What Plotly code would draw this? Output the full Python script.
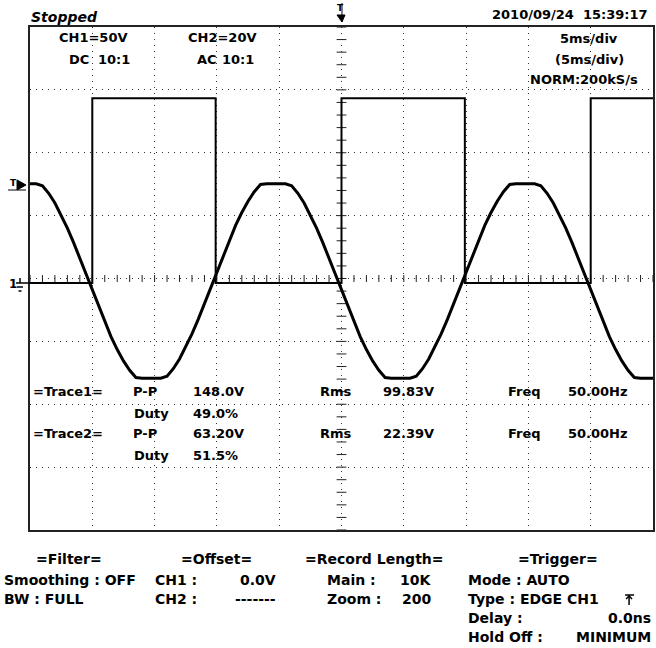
import plotly.graph_objects as go

# CH1 (50 V/div, DC 10:1): square wave, level changes (ms, V)
ch1_time_ms = [-25.0, -20.0, -10.1, 0.0, 9.9, 20.0, 25.0]
ch1_volts = [0.0, 147.0, 0.0, 147.0, 0.0, 147.0, 147.0]

# CH2 (20 V/div, AC 10:1): flat-topped sine, sampled every 0.5 ms
ch2_time_ms = [
    -25.0, -24.5, -24.0, -23.5, -23.0, -22.5, -22.0, -21.5, -21.0, -20.5,
    -20.0, -19.5, -19.0, -18.5, -18.0, -17.5, -17.0, -16.5, -16.0, -15.5,
    -15.0, -14.5, -14.0, -13.5, -13.0, -12.5, -12.0, -11.5, -11.0, -10.5,
    -10.0, -9.5, -9.0, -8.5, -8.0, -7.5, -7.0, -6.5, -6.0, -5.5,
    -5.0, -4.5, -4.0, -3.5, -3.0, -2.5, -2.0, -1.5, -1.0, -0.5,
    0.0, 0.5, 1.0, 1.5, 2.0, 2.5, 3.0, 3.5, 4.0, 4.5,
    5.0, 5.5, 6.0, 6.5, 7.0, 7.5, 8.0, 8.5, 9.0, 9.5,
    10.0, 10.5, 11.0, 11.5, 12.0, 12.5, 13.0, 13.5, 14.0, 14.5,
    15.0, 15.5, 16.0, 16.5, 17.0, 17.5, 18.0, 18.5, 19.0, 19.5,
    20.0, 20.5, 21.0, 21.5, 22.0, 22.5, 23.0, 23.5, 24.0, 24.5, 25.0,
]
ch2_volts = [
    30.9, 30.9, 30.3, 27.9, 24.8, 21.0, 16.8, 12.2, 7.2, 2.1,
    -3.1, -8.2, -13.1, -17.7, -21.8, -25.4, -28.4, -30.7, -30.9, -30.9,
    -30.9, -30.9, -30.3, -27.9, -24.8, -21.0, -16.8, -12.2, -7.2, -2.1,
    3.1, 8.2, 13.1, 17.7, 21.8, 25.4, 28.4, 30.7, 30.9, 30.9,
    30.9, 30.9, 30.3, 27.9, 24.8, 21.0, 16.8, 12.2, 7.2, 2.1,
    -3.1, -8.2, -13.1, -17.7, -21.8, -25.4, -28.4, -30.7, -30.9, -30.9,
    -30.9, -30.9, -30.3, -27.9, -24.8, -21.0, -16.8, -12.2, -7.2, -2.1,
    3.1, 8.2, 13.1, 17.7, 21.8, 25.4, 28.4, 30.7, 30.9, 30.9,
    30.9, 30.9, 30.3, 27.9, 24.8, 21.0, 16.8, 12.2, 7.2, 2.1,
    -3.1, -8.2, -13.1, -17.7, -21.8, -25.4, -28.4, -30.7, -30.9, -30.9, -30.9,
]

# screen settings
TIME_PER_DIV = 5.0      # ms/div
CH1_V_PER_DIV = 50.0
CH2_V_PER_DIV = 20.0
N_HDIV = 10
N_VDIV = 8
CH1_CENTER_V = 3.6      # screen centre expressed in CH1 volts
CH2_CENTER_V = 0.8      # screen centre expressed in CH2 volts

# ---------------- geometry helpers (pixels -> paper) ----------------
W, H = 656, 648
L, R, T, B = 30, 1, 27, 118
PW, PH = W - L - R, H - T - B


def px(x):
    return (x - L) / PW


def py(y):
    return (H - B - y) / PH


FONT = "DejaVu Sans"
INK = "#000000"

fig = go.Figure()

# centre cross-hair tick marks (every 1/5 division)
sub = 5
xt = [(-N_HDIV / 2 + i / sub) * TIME_PER_DIV for i in range(N_HDIV * sub + 1)]
yt = [CH1_CENTER_V + (-N_VDIV / 2 + i / sub) * CH1_V_PER_DIV for i in range(N_VDIV * sub + 1)]
fig.add_trace(go.Scatter(x=xt, y=[CH1_CENTER_V] * len(xt), mode="markers",
                         marker=dict(symbol="line-ns", size=5, line=dict(width=1, color="#222")),
                         hoverinfo="skip", showlegend=False))
fig.add_trace(go.Scatter(x=[0.0] * len(yt), y=yt, mode="markers",
                         marker=dict(symbol="line-ew", size=7, line=dict(width=1, color="#222")),
                         hoverinfo="skip", showlegend=False))

# waveforms
fig.add_trace(go.Scatter(x=ch1_time_ms, y=ch1_volts, mode="lines", line_shape="hv",
                         line=dict(color=INK, width=2), name="CH1", showlegend=False,
                         yaxis="y"))
fig.add_trace(go.Scatter(x=ch2_time_ms, y=ch2_volts, mode="lines",
                         line=dict(color=INK, width=3), name="CH2", showlegend=False,
                         yaxis="y2"))

half_t = N_HDIV / 2 * TIME_PER_DIV
grid_common = dict(showgrid=True, gridcolor="#333", gridwidth=1, griddash="1px,5px",
                   zeroline=False, showticklabels=False, ticks="")

fig.update_layout(
    width=W, height=H,
    margin=dict(l=L, r=R, t=T, b=B, pad=0),
    paper_bgcolor="white", plot_bgcolor="white",
    hovermode=False,
    xaxis=dict(range=[-half_t, half_t],
               tickvals=[(-N_HDIV / 2 + i) * TIME_PER_DIV for i in range(1, N_HDIV)],
               showline=True, linecolor="#222", linewidth=2, mirror=True,
               **grid_common),
    yaxis=dict(range=[CH1_CENTER_V - N_VDIV / 2 * CH1_V_PER_DIV,
                      CH1_CENTER_V + N_VDIV / 2 * CH1_V_PER_DIV],
               tickvals=[CH1_CENTER_V + (-N_VDIV / 2 + i) * CH1_V_PER_DIV for i in range(1, N_VDIV)],
               showline=True, linecolor="#222", linewidth=2, mirror=True,
               **grid_common),
    yaxis2=dict(range=[CH2_CENTER_V - N_VDIV / 2 * CH2_V_PER_DIV,
                       CH2_CENTER_V + N_VDIV / 2 * CH2_V_PER_DIV],
                overlaying="y", showgrid=False, zeroline=False,
                showticklabels=False, ticks=""),
)

annotations = []


def txt(s, x, y, anchor="left", size=13, style="normal"):
    annotations.append(dict(text=s, x=px(x), y=py(y), xref="paper", yref="paper",
                            xanchor=anchor, yanchor="middle", showarrow=False,
                            font=dict(family=FONT, size=size, color=INK, weight="bold",
                                      style=style)))


# header
txt("Stopped", 29, 17, size=14, style="italic")
txt("2010/09/24  15:39:17", 652, 15, anchor="right")

# on-screen settings
txt("CH1=50V", 57, 38)
txt("CH2=20V", 186, 38)
txt("DC", 67, 59)
txt("10:1", 96, 59)
txt("AC", 196, 59)
txt("10:1", 221, 59)
txt("5ms/div", 591, 39, anchor="center")
txt("(5ms/div)", 591, 59, anchor="center")
txt("NORM:200kS/s", 586, 79, anchor="center")

# measurements
rows = [(391, "=Trace1=", "P-P", "148.0V", "99.83V", "50.00Hz"),
        (433, "=Trace2=", "P-P", "63.20V", "22.39V", "50.00Hz")]
for y, name, pp, ppv, rms, fq in rows:
    txt(name, 31, y)
    txt(pp, 131, y)
    txt(ppv, 192, y)
    txt("Rms", 319, y)
    txt(rms, 382, y)
    txt("Freq", 508, y)
    txt(fq, 568, y)
txt("Duty", 132, 413)
txt("49.0%", 192, 413)
txt("Duty", 132, 455)
txt("51.5%", 192, 455)

# bottom panel
txt("=Filter=", 69, 559, anchor="center", size=14)
txt("Smoothing : OFF", 2, 580, size=14)
txt("BW : FULL", 2, 599, size=14)
txt("=Offset=", 217, 559, anchor="center", size=14)
txt("CH1 :", 153, 580, size=14)
txt("0.0V", 279, 580, anchor="right", size=14)
txt("CH2 :", 153, 599, size=14)
txt("-------", 279, 599, anchor="right", size=14)
txt("=Record Length=", 447, 559, anchor="right", size=14)
txt("Main :", 326, 580, size=14)
txt("10K", 434, 580, anchor="right", size=14)
txt("Zoom :", 326, 599, size=14)
txt("200", 434, 599, anchor="right", size=14)
txt("=Trigger=", 560, 559, anchor="center", size=14)
txt("Mode : AUTO", 467, 580, size=14)
txt("Type : EDGE CH1", 467, 599, size=14)
txt("Delay :", 467, 618, size=14)
txt("0.0ns", 655, 618, anchor="right", size=14)
txt("Hold Off :", 467, 637, size=14)
txt("MINIMUM", 655, 637, anchor="right", size=14)

# marker letters
txt("T", 8, 183, size=9)
txt("1", 7, 284, size=12)
txt("T", 336, 8, size=9)

fig.update_layout(annotations=annotations)


def line(x0, y0, x1, y1, w=1.5):
    fig.add_shape(type="line", xref="paper", yref="paper",
                  x0=px(x0), y0=py(y0), x1=px(x1), y1=py(y1),
                  line=dict(color=INK, width=w))


def poly(points):
    d = "M " + " L ".join(f"{px(a):.5f},{py(b):.5f}" for a, b in points) + " Z"
    fig.add_shape(type="path", xref="paper", yref="paper", path=d,
                  fillcolor=INK, line=dict(color=INK, width=1))


# trigger level marker (left)
poly([(17, 180), (17, 190), (26, 185)])
line(8, 190, 26, 190, 1)
# ground marker for CH1
line(20, 278, 20, 283, 1.5)
line(16, 283, 30, 283, 1.5)
line(17, 287, 23, 287, 1.5)
line(18.5, 291, 21.5, 291, 1.5)
# trigger position marker (top)
line(343, 3, 343, 22, 1)
poly([(338, 15), (346, 15), (343, 22)])
# rising edge symbol
line(627, 595, 636, 595, 1.5)
line(631, 595, 631, 605, 1.5)
line(628, 599, 631, 596, 1.5)
line(634, 599, 631, 596, 1.5)

fig.write_html("out.html", config={"displayModeBar": False, "staticPlot": True},
               post_script="document.body.style.margin='0';document.body.style.overflow='hidden';")
